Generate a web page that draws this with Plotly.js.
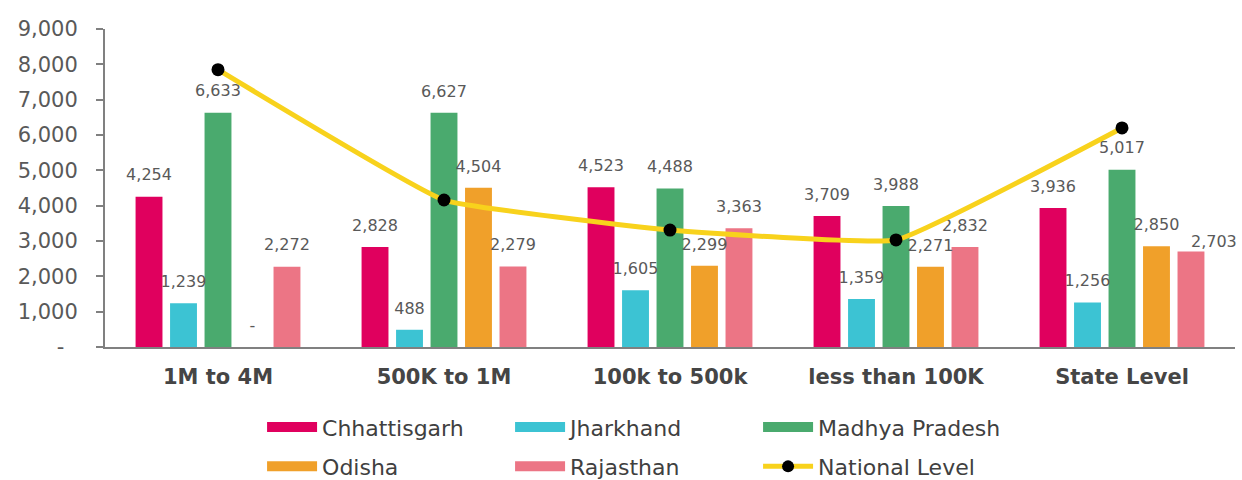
<!DOCTYPE html>
<html>
<head>
<meta charset="utf-8">
<script src="https://cdn.plot.ly/plotly-3.0.1.min.js"></script>
<style>html,body{margin:0;padding:0;background:#fff;}#chart{width:1242px;height:480px;}</style>
</head>
<body>
<div id="chart"></div>
<script>
const categories = ["1M to 4M", "500K to 1M", "100k to 500k", "less than 100K", "State Level"];
const chhattisgarh = [4254, 2828, 4523, 3709, 3936];
const jharkhand = [1239, 488, 1605, 1359, 1256];
const madhyaPradesh = [6633, 6627, 4488, 3988, 5017];
const odisha = [0, 4504, 2299, 2271, 2850];
const rajasthan = [2272, 2279, 3363, 2832, 2703];
const nationalLevel = [7850, 4160, 3310, 3030, 6200];
const yTickVals = [0, 1000, 2000, 3000, 4000, 5000, 6000, 7000, 8000, 9000];
const yTickText = ["-  ", "1,000", "2,000", "3,000", "4,000", "5,000", "6,000", "7,000", "8,000", "9,000"];

const FONT = "DejaVu Sans, Verdana, sans-serif";
const series = [
  {name: "Chhattisgarh", values: chhattisgarh, color: "#E0005E", group: "a", legend: "legend"},
  {name: "Jharkhand", values: jharkhand, color: "#3CC3D3", group: "b", legend: "legend"},
  {name: "Madhya Pradesh", values: madhyaPradesh, color: "#4AAA6E", group: "c", legend: "legend"},
  {name: "Odisha", values: odisha, color: "#F0A02A", group: "d", legend: "legend2"},
  {name: "Rajasthan", values: rajasthan, color: "#EC7585", group: "e", legend: "legend2",
   shiftLast: true}
];
const fmt = v => v === 0 ? "-" : v.toLocaleString("en-US");

const traces = [];
series.forEach(s => {
  traces.push({
    type: "bar", x: categories, y: s.values, name: s.name, offsetgroup: s.group,
    marker: {color: s.color}, legendgroup: s.name, showlegend: false,
    hovertemplate: s.name + ": %{y:,}<extra></extra>"
  });
});
series.forEach(s => {
  // the last label of a crowded group is nudged right (as in the source) to avoid overlap
  const n = s.values.length;
  const pos = s.values.map((v, i) => (s.shiftLast && i === n - 1) ? "top right" : "top center");
  const msz = s.values.map((v, i) => (s.shiftLast && i === n - 1) ? 0 : 18);
  traces.push({
    type: "scatter", mode: "markers+text", x: categories, y: s.values,
    text: s.values.map(fmt), textposition: pos,
    textfont: {family: FONT, size: 16, color: "#595959"},
    marker: {size: msz, opacity: 0}, offsetgroup: s.group,
    showlegend: false, hoverinfo: "skip", cliponaxis: false, legendgroup: s.name
  });
});
traces.push({
  type: "scatter", mode: "lines+markers", x: categories, y: nationalLevel,
  name: "National Level", offsetgroup: "c",
  line: {color: "#F8D21C", width: 5, shape: "spline", smoothing: 0.3},
  marker: {color: "#000000", size: 13}, cliponaxis: false, showlegend: false,
  legendgroup: "National Level",
  hovertemplate: "National Level: %{y:,}<extra></extra>"
});
// legend entries
series.forEach(s => {
  traces.push({
    type: "scatter", mode: "lines", x: [null], y: [null], name: s.name,
    line: {color: s.color, width: 11}, legendgroup: s.name, legend: s.legend,
    hoverinfo: "skip"
  });
});
traces.push({
  type: "scatter", mode: "lines+markers", x: [null], y: [null], name: "National Level",
  line: {color: "#F8D21C", width: 5}, marker: {color: "#000000", size: 12},
  legendgroup: "National Level", legend: "legend2", hoverinfo: "skip"
});

const legendBase = {
  orientation: "h", xref: "paper", yref: "paper", xanchor: "left", yanchor: "middle",
  x: 0.139, entrywidth: 183, entrywidthmode: "pixels", itemwidth: 50,
  font: {family: FONT, size: 22, color: "#404040"}, bgcolor: "rgba(0,0,0,0)",
  traceorder: "normal", itemclick: "toggle"
};

const layout = {
  width: 1242, height: 480,
  margin: {l: 105, r: 7, t: 29, b: 133, autoexpand: false},
  paper_bgcolor: "#ffffff", plot_bgcolor: "#ffffff",
  font: {family: FONT, color: "#595959"},
  barmode: "group", bargap: 0.237, bargroupgap: 0.22,
  scattermode: "group", scattergap: 0.237,
  showlegend: true,
  legend: Object.assign({}, legendBase, {y: -0.252}),
  legend2: Object.assign({}, legendBase, {y: -0.376}),
  xaxis: {
    type: "category", showline: true, linecolor: "#808080", linewidth: 2,
    ticks: "", showgrid: false, zeroline: false, ticklabelstandoff: 10,
    tickfont: {family: FONT, size: 21, color: "#454545", weight: "bold"}
  },
  yaxis: {
    range: [0, 9000], tickvals: yTickVals, ticktext: yTickText,
    showline: true, linecolor: "#808080", linewidth: 2,
    ticks: "outside", ticklen: 7, tickcolor: "#808080", tickwidth: 1.5,
    showgrid: false, zeroline: false, ticklabelstandoff: 14,
    tickfont: {family: FONT, size: 21, color: "#595959"}
  }
};

Plotly.newPlot("chart", traces, layout, {displayModeBar: false, responsive: false});
</script>
</body>
</html>
